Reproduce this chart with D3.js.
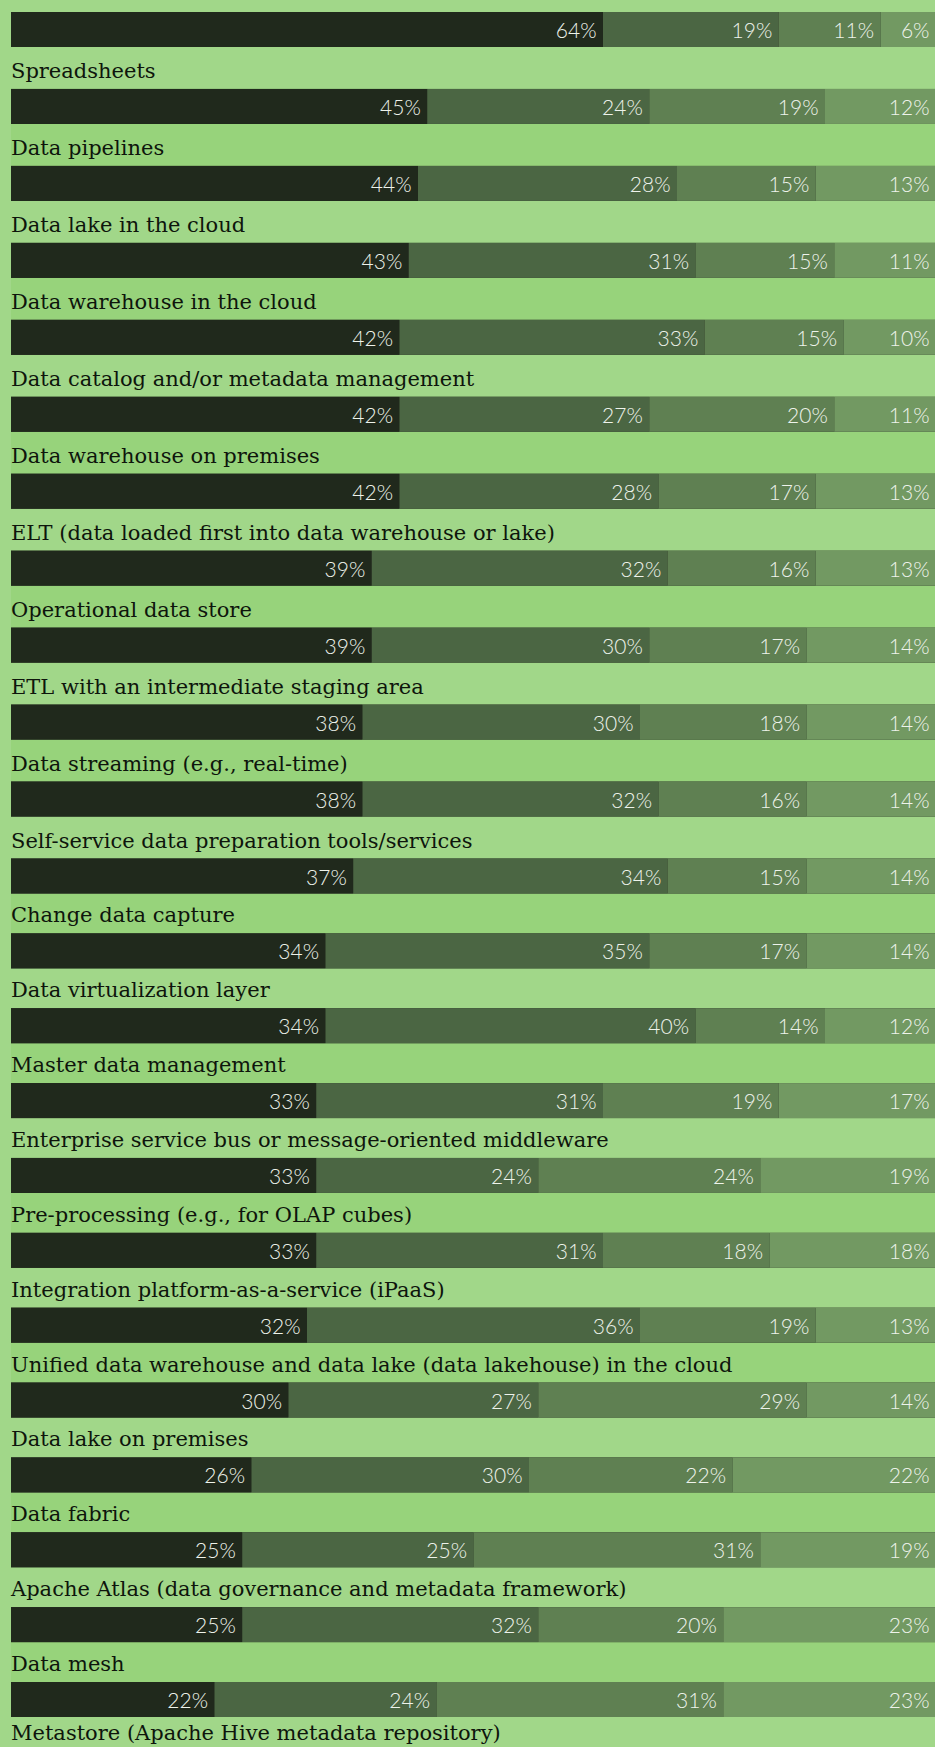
<!DOCTYPE html>
<html>
<head>
<meta charset="utf-8">
<script src="https://cdn.jsdelivr.net/npm/d3@7"></script>
<style>
  body { margin: 0; background: #a1d789; overflow: hidden; }
  svg { display: block; }
</style>
</head>
<body>
<div id="chart"></div>
<script>
// row labels (the first row's label is above the visible area)
const categories = [
  "",
  "Spreadsheets",
  "Data pipelines",
  "Data lake in the cloud",
  "Data warehouse in the cloud",
  "Data catalog and/or metadata management",
  "Data warehouse on premises",
  "ELT (data loaded first into data warehouse or lake)",
  "Operational data store",
  "ETL with an intermediate staging area",
  "Data streaming (e.g., real-time)",
  "Self-service data preparation tools/services",
  "Change data capture",
  "Data virtualization layer",
  "Master data management",
  "Enterprise service bus or message-oriented middleware",
  "Pre-processing (e.g., for OLAP cubes)",
  "Integration platform-as-a-service (iPaaS)",
  "Unified data warehouse and data lake (data lakehouse) in the cloud",
  "Data lake on premises",
  "Data fabric",
  "Apache Atlas (data governance and metadata framework)",
  "Data mesh",
  "Metastore (Apache Hive metadata repository)"
];

// the four stacked segments, left to right (percent)
const seg1 = [64, 45, 44, 43, 42, 42, 42, 39, 39, 38, 38, 37, 34, 34, 33, 33, 33, 32, 30, 26, 25, 25, 22];
const seg2 = [19, 24, 28, 31, 33, 27, 28, 32, 30, 30, 32, 34, 35, 40, 31, 24, 31, 36, 27, 30, 25, 32, 24];
const seg3 = [11, 19, 15, 15, 15, 20, 17, 16, 17, 18, 16, 15, 17, 14, 19, 24, 18, 19, 29, 22, 31, 20, 31];
const seg4 = [6, 12, 13, 11, 10, 11, 13, 13, 14, 14, 14, 14, 14, 12, 17, 19, 18, 13, 14, 22, 19, 23, 23];

const keys = ["seg1", "seg2", "seg3", "seg4"];
const colors = ["#20291c", "#4b6643", "#5f8052", "#729962"];

const width = 935, height = 1747;
const barH = 35;

const rows = seg1.map(function (v, i) {
  return { cat: categories[i], seg1: v, seg2: seg2[i], seg3: seg3[i], seg4: seg4[i] };
});

const stacked = d3.stack().keys(keys)(rows);

const x = d3.scaleLinear().domain([0, 100]).range([11, 936]);
// row index -> top of bar (rows get slightly tighter further down)
const y = d3.scaleLinear().domain([0, 11, 22, 23]).range([12, 858.5, 1682, 1751]);

const svg = d3
  .select("#chart")
  .append("svg")
  .attr("width", width)
  .attr("height", height);

svg.append("rect")
  .attr("width", width)
  .attr("height", height)
  .attr("fill", "#a1d789");

// alternate stripes behind the labels
svg.append("g")
  .selectAll("rect")
  .data(categories.map((c, i) => i).filter((i) => i > 0 && i < rows.length && i % 2 === 0))
  .join("rect")
  .attr("x", 11)
  .attr("y", (i) => y(i - 1) + barH)
  .attr("width", width - 11)
  .attr("height", (i) => y(i) - y(i - 1) - barH)
  .attr("fill", "#97d37b");

// dark base under each bar, shows through the seams
svg.append("g")
  .selectAll("rect")
  .data(rows)
  .join("rect")
  .attr("x", x(0))
  .attr("y", (d, i) => y(i))
  .attr("width", x(100) - x(0))
  .attr("height", barH)
  .attr("fill", colors[0]);

const layer = svg.append("g")
  .selectAll("g")
  .data(stacked)
  .join("g")
  .attr("fill", (d, i) => colors[i]);

layer.selectAll("rect")
  .data((d) => d)
  .join("rect")
  .attr("x", (d) => x(d[0]))
  .attr("y", (d, i) => y(i))
  .attr("width", (d) => x(d[1]) - x(d[0]))
  .attr("height", barH);

layer.selectAll("text")
  .data((d) => d.map((v) => ({ v: v, val: v[1] - v[0] })))
  .join("text")
  .attr("x", (d) => x(d.v[1]) - 6.5)
  .attr("y", (d, i) => y(i) + barH / 2)
  .attr("text-anchor", "end")
  .attr("dominant-baseline", "central")
  .attr("fill", "#eef3eb")
  .style("font-family", "Lato, 'Open Sans', sans-serif")
  .style("font-weight", 300)
  .style("font-size", "21px")
  .text((d) => d.val + "%");

// category labels
svg.append("g")
  .selectAll("text")
  .data(categories)
  .join("text")
  .attr("x", 11)
  .attr("y", (d, i) => y(i) - 11)
  .attr("fill", "#0e150c")
  .style("font-family", "'DejaVu Serif', serif")
  .style("font-size", "21px")
  .text((d) => d);
</script>
</body>
</html>
